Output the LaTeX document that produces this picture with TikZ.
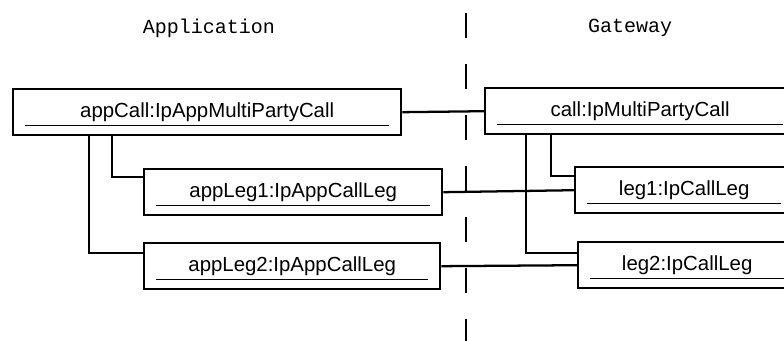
\documentclass[tikz,border=0pt]{standalone}
\usepackage{fontspec}
\setmainfont{Liberation Sans}
\newfontfamily\lanefont{Liberation Mono}
\usetikzlibrary{calc}
\begin{document}
\begin{tikzpicture}[x=0.75pt,y=-0.75pt,
  objbox/.style={draw, line width=1.8pt, anchor=north west, inner sep=0pt,
    minimum height=34.5pt, font=\fontsize{15.3}{18}\selectfont},
  uline/.style={line width=0.8pt},
  link/.style={line width=1.7pt},
  lane/.style={font=\lanefont\fontsize{15}{18}\selectfont},
  divider/.style={line width=1.7pt, dash pattern=on 18.75pt off 19.5pt}]
\useasboundingbox (0,0) rectangle (784,341);
\clip (0,0) rectangle (784,341);

% swimlane titles and divider
\node[lane] (app) at (209,28) {Application};
\node[lane] (gw) at (630,28) {Gateway};
\coordinate (divtop) at (466,13);
\coordinate (divbot) at (466,345);
\draw[divider] (divtop) -- (divbot);

% application objects
\node[objbox, minimum width=291pt] (appCall) at (12,88) {appCall:IpAppMultiPartyCall};
\node[objbox, minimum width=223.5pt] (appLeg1) at (143,168) {appLeg1:IpAppCallLeg};
\node[objbox, minimum width=222pt] (appLeg2) at (143,242) {appLeg2:IpAppCallLeg};

% gateway objects
\node[objbox, minimum width=232.5pt] (call) at (484,87) {call:IpMultiPartyCall};
\node[objbox, minimum width=163.5pt] (leg1) at (574,166) {leg1:IpCallLeg};
\node[objbox, minimum width=163.5pt] (leg2) at (577,241) {leg2:IpCallLeg};

% object-name underlines
\foreach \n in {appCall,appLeg1,appLeg2,call,leg1,leg2}
  \draw[uline] ($(\n.south west)+(13,-11)$) -- ($(\n.south east)+(-13,-11)$);

% containment links
\draw[link] ([xshift=75pt]appCall.south west) |- ([yshift=-6.75pt]appLeg1.north west);
\draw[link] ([xshift=57.75pt]appCall.south west) |- ([yshift=-8.25pt]appLeg2.north west);
\draw[link] ([xshift=50.25pt]call.south west) |- ([yshift=-7.5pt]leg1.north west);
\draw[link] ([xshift=31.5pt]call.south west) |- ([yshift=-9pt]leg2.north west);

% cross-boundary associations
\draw[link] (appCall.east) -- (call.west);
\draw[link] (appLeg1.east) -- (leg1.west);
\draw[link] (appLeg2.east) -- (leg2.west);
\end{tikzpicture}
\end{document}
